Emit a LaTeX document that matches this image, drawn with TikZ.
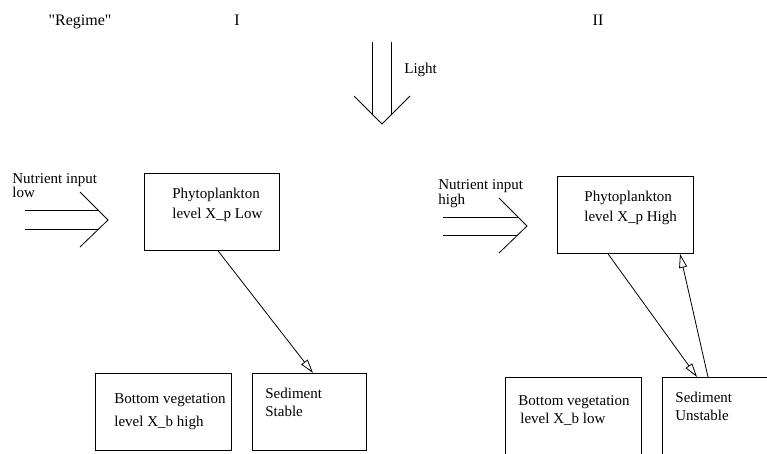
\documentclass[tikz,border=0pt]{standalone}
\usepackage{fontspec}
\setmainfont{Liberation Serif}
\newfontfamily\quotefont{Liberation Serif}[Ligatures=TeXOff]
\usetikzlibrary{arrows.meta,calc}
\begin{document}
\begin{tikzpicture}[x=1pt,y=-1pt, line width=0.8pt,
  box/.style={draw, rectangle, inner sep=0pt, anchor=north west},
  lbl/.style={anchor=base west, inner sep=0pt, font=\fontsize{15}{18}\selectfont},
  head/.style={anchor=base, inner sep=0pt, font=\fontsize{16}{19}\selectfont},
  oarrow/.style={-{Triangle[open,length=14pt,width=8pt]}}]
\useasboundingbox (0,0) rectangle (767,453);
\clip (0,0) rectangle (767,453);
% headings
\node[head] (reg) at (80,25) {\quotefont "Regime"};
\node[head] (r1) at (237,25) {I};
\node[head] (r2) at (598,25) {II};
% light arrow
\coordinate (lapex) at (382,124);
\draw (372,42) -- (372,114);
\draw (391,42) -- (391,115);
\draw (354,96) -- (lapex) -- (410,96);
\node[lbl] (light) at (404,73) {Light};
% nutrient arrow I
\coordinate (n1apex) at (108,220);
\draw (25,210) -- (98,210);
\draw (25,229) -- (99,229);
\draw (80,192) -- (n1apex) -- (80,247);
\node[lbl] (n1a) at (12,183) {Nutrient input};
\node[lbl] (n1b) at (12,197) {low};
% nutrient arrow II
\coordinate (n2apex) at (527,226);
\draw (443,217) -- (518,217);
\draw (443,235) -- (518,235);
\draw (499,198) -- (n2apex) -- (499,253);
\node[lbl] (n2a) at (438,189) {Nutrient input};
\node[lbl] (n2b) at (438,204) {high};
% boxes regime I
\node[box, minimum width=135pt, minimum height=77pt] (p1) at (144,173) {};
\node[lbl] (p1a) at (172,198) {Phytoplankton};
\node[lbl] (p1b) at (172,218) {level X\_p Low};
\node[box, minimum width=136pt, minimum height=77pt] (b1) at (95,373) {};
\node[lbl] (b1a) at (114,403) {Bottom vegetation};
\node[lbl] (b1b) at (114,426) {level X\_b high};
\node[box, minimum width=114pt, minimum height=77pt] (s1) at (252,373) {};
\node[lbl] (s1a) at (265,398) {Sediment};
\node[lbl] (s1b) at (265,416) {Stable};
% boxes regime II
\node[box, minimum width=136pt, minimum height=77pt] (p2) at (557,176) {};
\node[lbl] (p2a) at (584,201) {Phytoplankton};
\node[lbl] (p2b) at (584,221) {level X\_p High};
\node[box, minimum width=136pt, minimum height=100pt] (b2) at (505,377) {};
\node[lbl] (b2a) at (518,405) {Bottom vegetation};
\node[lbl] (b2b) at (520,423) {level X\_b low};
\node[box, minimum width=130pt, minimum height=100pt] (s2) at (662,377) {};
\node[lbl] (s2a) at (675,402) {Sediment};
\node[lbl] (s2b) at (675,420) {Unstable};
% connectors
\draw[oarrow] ($(p1.south west)+(74,0)$) -- ($(s1.north west)+(61,0)$);
\draw[oarrow] ($(p2.south west)+(51,0)$) -- ($(s2.north west)+(35,0)$);
\draw[oarrow] ($(s2.north west)+(46,0)$) -- ($(p2.south west)+(123,0)$);
\end{tikzpicture}
\end{document}
